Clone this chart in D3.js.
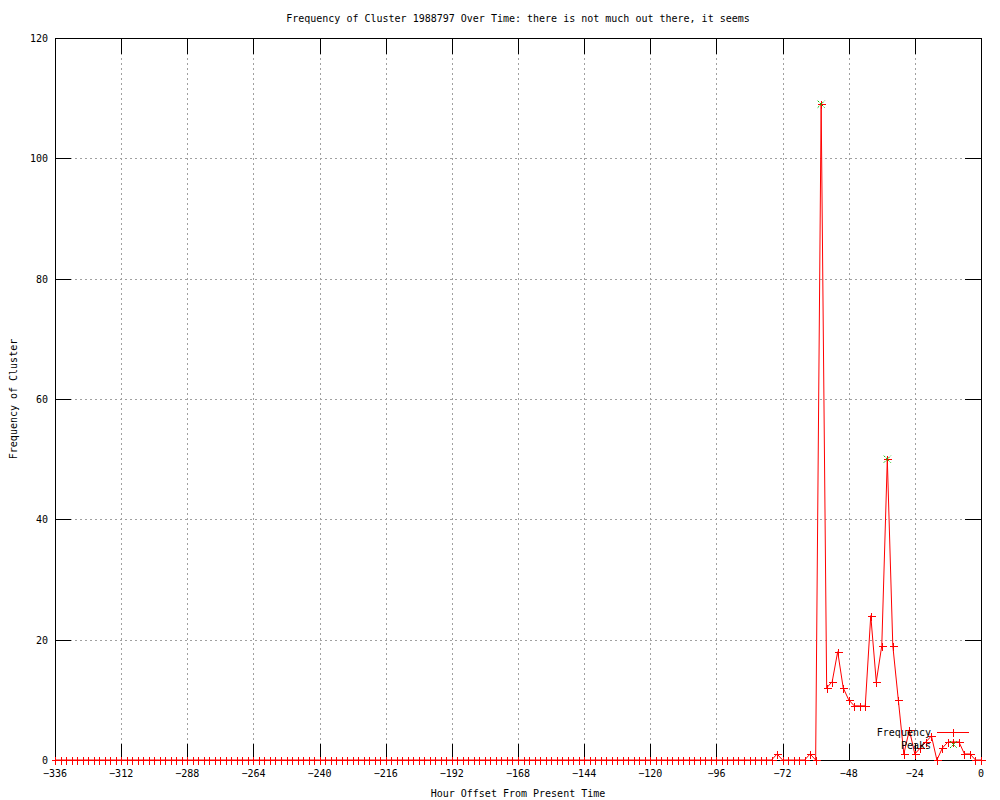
<!DOCTYPE html>
<html>
<head>
<meta charset="utf-8">
<script src="https://cdn.jsdelivr.net/npm/d3@7"></script>
<style>
  body { margin: 0; background: #fff; }
  text { font-family: "DejaVu Sans Mono", monospace; font-size: 10px; fill: #000; }
</style>
</head>
<body>
<div id="main"></div>
<script>
var width = 1000,
    height = 800;

// data: one sample every 2 hours, from -336 to 0
var hours = d3.range(-336, 1, 2);
var frequency = [
  0,0,0,0,0,0,0,0,0,0,0,0,0,0,0,0,0,0,0,0,
  0,0,0,0,0,0,0,0,0,0,0,0,0,0,0,0,0,0,0,0,
  0,0,0,0,0,0,0,0,0,0,0,0,0,0,0,0,0,0,0,0,
  0,0,0,0,0,0,0,0,0,0,0,0,0,0,0,0,0,0,0,0,
  0,0,0,0,0,0,0,0,0,0,0,0,0,0,0,0,0,0,0,0,
  0,0,0,0,0,0,0,0,0,0,0,0,0,0,0,0,0,0,0,0,
  0,0,0,0,0,0,0,0,0,0,0,
  // -74 .. 0
  1,0,0,0,0,0,1,0,109,12,13,18,12,10,9,9,9,24,13,19,
  50,19,10,1,5,1,2,3,4,0,2,3,3,3,1,1,0,0
];
var peakHours = [-58, -34];
var peakValues = [109, 50];

var xTicks = [-336, -312, -288, -264, -240, -216, -192, -168, -144, -120, -96, -72, -48, -24, 0];
var yTicks = [0, 20, 40, 60, 80, 100, 120];

var titleText = "Frequency of Cluster 1988797 Over Time: there is not much out there, it seems";
var xLabel = "Hour Offset From Present Time";
var yLabel = "Frequency of Cluster";

// plot box
var pLeft = 55, pRight = 981, pTop = 38, pBottom = 760;

var x = d3.scaleLinear().domain([-336, 0]).range([pLeft, pRight]);
var y = d3.scaleLinear().domain([0, 120]).range([pBottom, pTop]);

var svg = d3.select("#main").append("svg")
    .attr("width", width)
    .attr("height", height);

svg.append("rect").attr("width", width).attr("height", height).attr("fill", "#fff");

var px = function(v) { return Math.round(v) + 0.5; };

// grid
var grid = svg.append("g")
    .attr("stroke", "#a0a0a0")
    .attr("stroke-dasharray", "2,3")
    .attr("shape-rendering", "crispEdges");
xTicks.slice(1, -1).forEach(function(t) {
  grid.append("line")
      .attr("x1", px(x(t))).attr("x2", px(x(t)))
      .attr("y1", pTop).attr("y2", pBottom);
});
yTicks.slice(1, -1).forEach(function(t) {
  grid.append("line")
      .attr("x1", pLeft).attr("x2", pRight)
      .attr("y1", px(y(t))).attr("y2", px(y(t)));
});

// ticks (inward, mirrored) and labels
var tickLen = 16;
var ticks = svg.append("g").attr("stroke", "#000").attr("shape-rendering", "crispEdges");
xTicks.forEach(function(t) {
  var xx = px(x(t));
  ticks.append("line").attr("x1", xx).attr("x2", xx).attr("y1", pBottom).attr("y2", pBottom - tickLen);
  ticks.append("line").attr("x1", xx).attr("x2", xx).attr("y1", pTop).attr("y2", pTop + tickLen);
  svg.append("text")
      .attr("x", x(t))
      .attr("y", 777)
      .attr("text-anchor", "middle")
      .text(t === 0 ? "0" : "\u2212" + Math.abs(t));
});
yTicks.forEach(function(t) {
  var yy = px(y(t));
  ticks.append("line").attr("x1", pLeft).attr("x2", pLeft + tickLen).attr("y1", yy).attr("y2", yy);
  ticks.append("line").attr("x1", pRight).attr("x2", pRight - tickLen).attr("y1", yy).attr("y2", yy);
  svg.append("text")
      .attr("x", 48)
      .attr("y", y(t) + 4)
      .attr("text-anchor", "end")
      .text(t);
});

// border
svg.append("rect")
    .attr("x", pLeft + 0.5).attr("y", pTop + 0.5)
    .attr("width", pRight - pLeft).attr("height", pBottom - pTop)
    .attr("fill", "none")
    .attr("stroke", "#000")
    .attr("shape-rendering", "crispEdges");

// frequency line
var line = d3.line()
    .x(function(d, i) { return x(hours[i]); })
    .y(function(d) { return y(d); });

svg.append("path")
    .datum(frequency)
    .attr("d", line)
    .attr("fill", "none")
    .attr("stroke", "#ff0000")
    .attr("stroke-width", 1);

function plus(g, cx, cy, color) {
  cx = Math.round(cx) + 0.5; cy = Math.round(cy) + 0.5;
  g.append("path")
      .attr("d", "M" + (cx - 4) + "," + cy + "H" + (cx + 4) + "M" + cx + "," + (cy - 4) + "V" + (cy + 4))
      .attr("stroke", color)
      .attr("shape-rendering", "crispEdges");
}
function cross(g, cx, cy, color) {
  g.append("path")
      .attr("d", "M" + (cx - 3.5) + "," + (cy - 3.5) + "L" + (cx + 3.5) + "," + (cy + 3.5) +
                 "M" + (cx - 3.5) + "," + (cy + 3.5) + "L" + (cx + 3.5) + "," + (cy - 3.5))
      .attr("stroke", color)
      .attr("stroke-dasharray", "2,1");
}

var pts = svg.append("g");
frequency.forEach(function(v, i) { plus(pts, x(hours[i]), y(v), "#ff0000"); });

var peaks = svg.append("g");
peakValues.forEach(function(v, i) { cross(peaks, x(peakHours[i]), y(v), "#00c000"); });

// legend
svg.append("text").attr("x", 931).attr("y", 736).attr("text-anchor", "end").text("Frequency");
svg.append("line")
    .attr("x1", 937).attr("x2", 969).attr("y1", 732.5).attr("y2", 732.5)
    .attr("stroke", "#ff0000").attr("shape-rendering", "crispEdges");
plus(svg, 953, 732, "#ff0000");
svg.append("text").attr("x", 931).attr("y", 749).attr("text-anchor", "end").text("Peaks");
cross(svg, 953.5, 744.5, "#00c000");

// titles
svg.append("text")
    .attr("x", (pLeft + pRight) / 2).attr("y", 22)
    .attr("text-anchor", "middle")
    .text(titleText);
svg.append("text")
    .attr("x", (pLeft + pRight) / 2).attr("y", 797)
    .attr("text-anchor", "middle")
    .text(xLabel);
svg.append("text")
    .attr("transform", "translate(17," + ((pTop + pBottom) / 2) + ")rotate(-90)")
    .attr("text-anchor", "middle")
    .text(yLabel);
</script>
</body>
</html>
